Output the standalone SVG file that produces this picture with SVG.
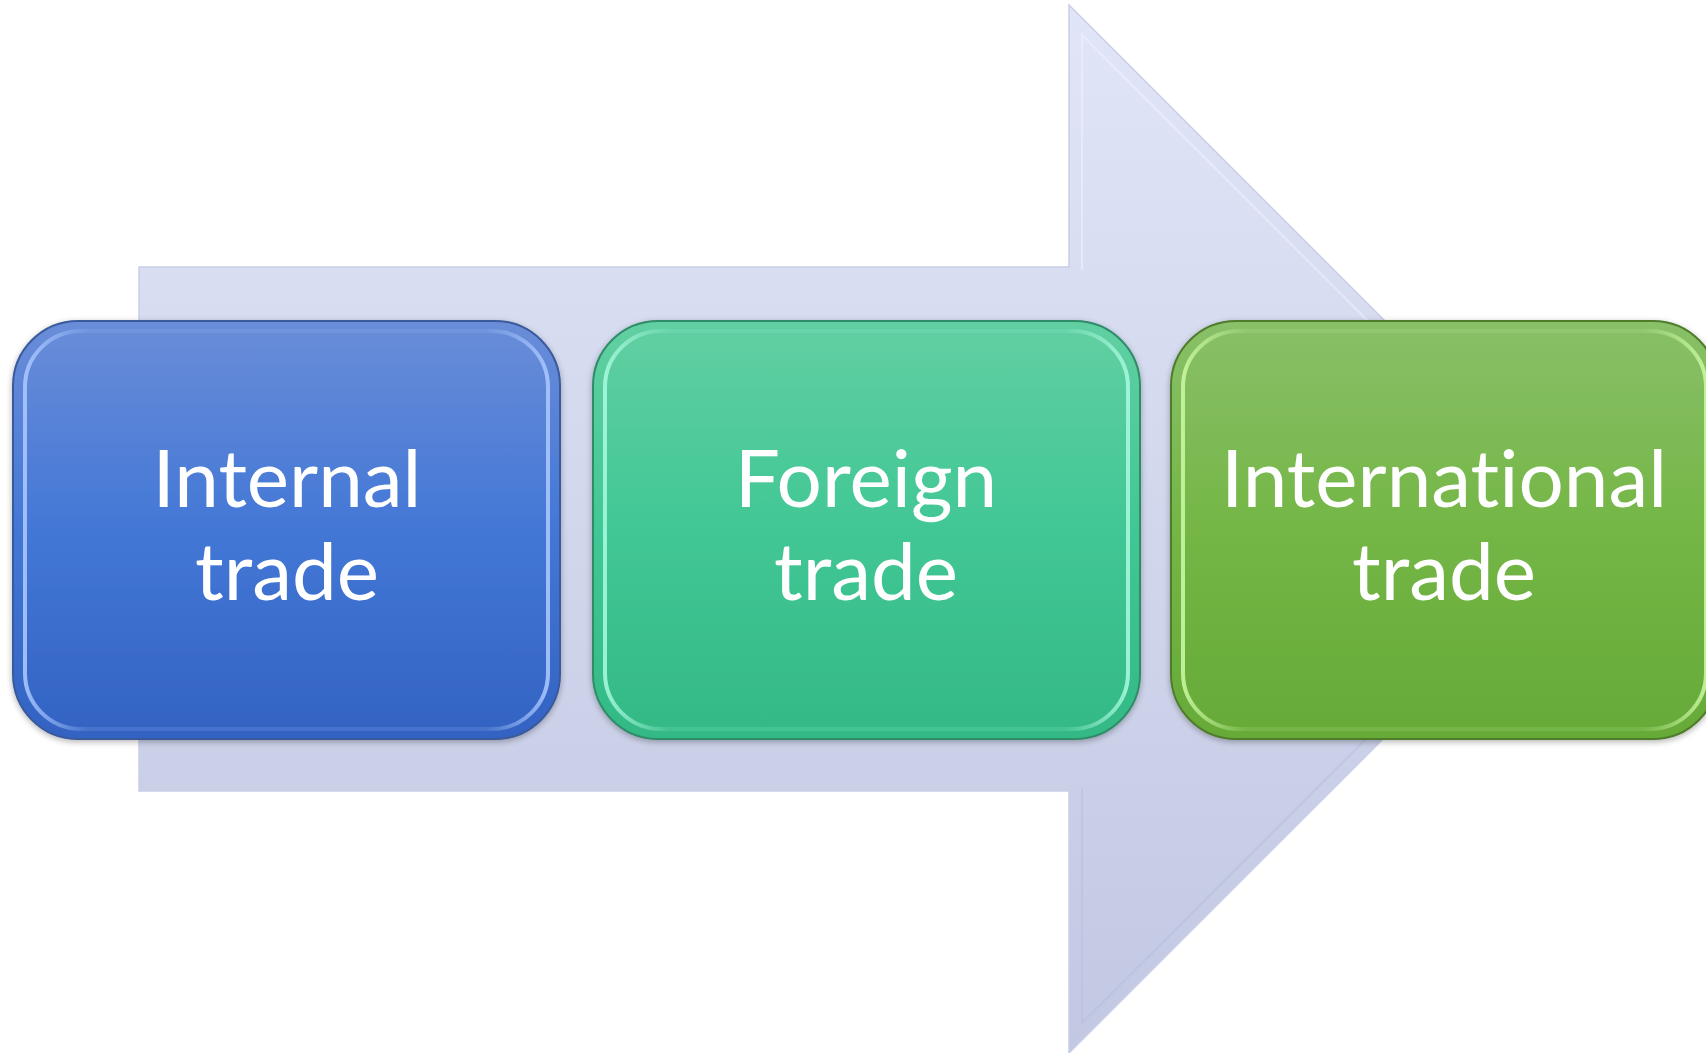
<svg xmlns="http://www.w3.org/2000/svg" width="1706" height="1053" viewBox="0 0 1706 1053">
<defs>
<linearGradient id="gArrow" x1="0" y1="0" x2="0" y2="1">
<stop offset="0" stop-color="#e0e5f7"/>
<stop offset="1" stop-color="#c2c8e2"/>
</linearGradient>
<linearGradient id="gBlue" x1="0" y1="0" x2="0" y2="1">
<stop offset="0" stop-color="#6a8dd8"/>
<stop offset="0.5" stop-color="#4377d6"/>
<stop offset="1" stop-color="#3363c2"/>
</linearGradient>
<linearGradient id="gTeal" x1="0" y1="0" x2="0" y2="1">
<stop offset="0" stop-color="#62cfa2"/>
<stop offset="0.5" stop-color="#41c795"/>
<stop offset="1" stop-color="#33b985"/>
</linearGradient>
<linearGradient id="gGreen" x1="0" y1="0" x2="0" y2="1">
<stop offset="0" stop-color="#89c068"/>
<stop offset="0.5" stop-color="#74b646"/>
<stop offset="1" stop-color="#66aa38"/>
</linearGradient>
<linearGradient id="rimBlue" x1="0" y1="0" x2="1" y2="0">
<stop offset="0" stop-color="#a9c6ff" stop-opacity="0.9"/>
<stop offset="0.12" stop-color="#a9c6ff" stop-opacity="0.15"/>
<stop offset="0.88" stop-color="#a9c6ff" stop-opacity="0.15"/>
<stop offset="1" stop-color="#a9c6ff" stop-opacity="0.9"/>
</linearGradient>
<linearGradient id="rimTeal" x1="0" y1="0" x2="1" y2="0">
<stop offset="0" stop-color="#a5f8dc" stop-opacity="0.9"/>
<stop offset="0.12" stop-color="#a5f8dc" stop-opacity="0.15"/>
<stop offset="0.88" stop-color="#a5f8dc" stop-opacity="0.15"/>
<stop offset="1" stop-color="#a5f8dc" stop-opacity="0.9"/>
</linearGradient>
<linearGradient id="rimGreen" x1="0" y1="0" x2="1" y2="0">
<stop offset="0" stop-color="#c8f7a0" stop-opacity="0.9"/>
<stop offset="0.12" stop-color="#c8f7a0" stop-opacity="0.15"/>
<stop offset="0.88" stop-color="#c8f7a0" stop-opacity="0.15"/>
<stop offset="1" stop-color="#c8f7a0" stop-opacity="0.9"/>
</linearGradient>
<filter id="sh" x="-10%" y="-10%" width="120%" height="120%">
<feGaussianBlur in="SourceAlpha" stdDeviation="3"/>
<feOffset dx="0" dy="2" result="b"/>
<feComponentTransfer><feFuncA type="linear" slope="0.3"/></feComponentTransfer>
<feMerge><feMergeNode/><feMergeNode in="SourceGraphic"/></feMerge>
</filter>
</defs>
<style>
.lbl{font-family:Lato,"Open Sans","Liberation Sans",sans-serif;font-size:80px;fill:#ffffff;text-anchor:middle;font-variant-ligatures:none;font-feature-settings:"liga" 0,"clig" 0}
.rim{fill:none;stroke-width:4}
</style>
<g id="connectors">
<path id="big-arrow" d="M139,267 L1069,267 L1069,5 L1593,529 L1069,1053 L1069,791 L139,791 Z" fill="url(#gArrow)" stroke="#c9cee8" stroke-width="1.5"/>
<path d="M1082,270 L1082,35 L1565,518" fill="none" stroke="#eef0fb" stroke-width="2" opacity="0.6"/>
<path d="M1082,788 L1082,1023 L1565,540" fill="none" stroke="#b7bedb" stroke-width="2" opacity="0.5"/>
</g>
<g id="node-internal" filter="url(#sh)">
<rect x="13" y="321" width="547" height="418" rx="65" fill="url(#gBlue)" stroke="#3a5a9c" stroke-width="2"/>
<rect x="25" y="331" width="523" height="398" rx="56" class="rim" stroke="url(#rimBlue)"/>
<text class="lbl" x="287" y="507">Internal</text>
<text class="lbl" x="287" y="600">trade</text>
</g>
<g id="node-foreign" filter="url(#sh)">
<rect x="593" y="321" width="547" height="418" rx="65" fill="url(#gTeal)" stroke="#2f8c68" stroke-width="2"/>
<rect x="605" y="331" width="523" height="398" rx="56" class="rim" stroke="url(#rimTeal)"/>
<text class="lbl" x="866" y="507">Foreign</text>
<text class="lbl" x="866" y="600">trade</text>
</g>
<g id="node-international" filter="url(#sh)">
<rect x="1171" y="321" width="547" height="418" rx="65" fill="url(#gGreen)" stroke="#4f7c2c" stroke-width="2"/>
<rect x="1183" y="331" width="523" height="398" rx="56" class="rim" stroke="url(#rimGreen)"/>
<text class="lbl" x="1444" y="507">International</text>
<text class="lbl" x="1444" y="600">trade</text>
</g>
</svg>
